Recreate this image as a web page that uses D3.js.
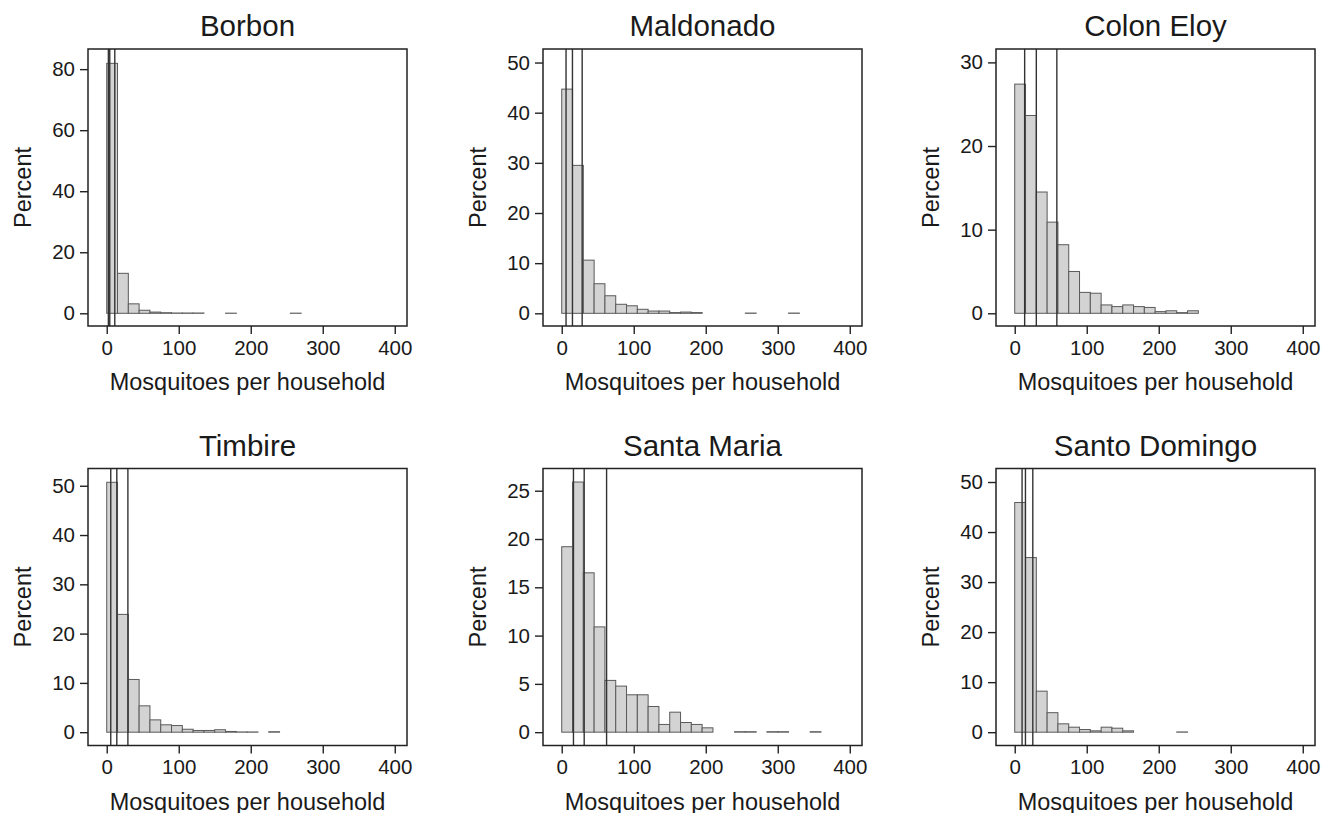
<!DOCTYPE html>
<html>
<head>
<meta charset="utf-8">
<script src="https://cdn.jsdelivr.net/npm/d3@7"></script>
<style>
  html, body { margin: 0; padding: 0; background: #fff; }
  svg { display: block; font-family: "Liberation Sans", Arial, Helvetica, sans-serif; }
</style>
</head>
<body>
<svg id="chart" width="1333" height="813"></svg>
<script>
// ---------- data ----------
const villages = ["Borbon", "Maldonado", "Colon Eloy", "Timbire", "Santa Maria", "Santo Domingo"];
const binWidth = 15; // mosquitoes per bin, bins start at 0

const borbonPct      = [81.9, 13.1, 3.1, 1.0, 0.4, 0.2, 0.1, 0.1, 0.1, 0, 0, 0.05, 0, 0, 0, 0, 0, 0.05];
const maldonadoPct   = [44.7, 29.5, 10.6, 5.9, 3.5, 1.8, 1.5, 0.8, 0.45, 0.45, 0.15, 0.25, 0.15, 0, 0, 0, 0, 0.05, 0, 0, 0, 0.05];
const colonEloyPct   = [27.4, 23.65, 14.5, 10.9, 8.2, 5.0, 2.5, 2.4, 1.0, 0.8, 1.0, 0.8, 0.7, 0.2, 0.3, 0.08, 0.3];
const timbirePct     = [50.7, 23.9, 10.7, 5.35, 2.5, 1.5, 1.35, 0.6, 0.35, 0.35, 0.5, 0.15, 0.05, 0.05, 0, 0.1];
const santaMariaPct  = [19.2, 25.9, 16.5, 10.9, 5.36, 4.77, 3.87, 3.87, 2.66, 0.8, 2.07, 1.0, 0.8, 0.45, 0, 0, 0.05, 0.05, 0, 0.05, 0.05, 0, 0, 0.05];
const santoDomingoPct= [45.9, 34.9, 8.2, 3.9, 1.67, 1.0, 0.53, 0.27, 1.0, 0.8, 0.27, 0, 0, 0, 0, 0.05];

const seriesPct = [borbonPct, maldonadoPct, colonEloyPct, timbirePct, santaMariaPct, santoDomingoPct];

// reference (vertical) lines, mosquitoes per household
const refLines = [[2.3, 4.2, 11.2], [6.0, 14.9, 28.4], [13.8, 30, 58.5], [5.6, 14, 29.4], [16.3, 31.2, 62.3], [10.2, 14.9, 25.1]];

// axis ranges and tick labels
const xDomain = [-26, 417];
const xTicks = [0, 100, 200, 300, 400];
const yDomains = [[-4.16, 86.6], [-2.53, 52.7], [-1.52, 31.6], [-2.7, 53.5], [-1.38, 27.3], [-2.66, 52.7]];
const yTicks = [[0, 20, 40, 60, 80], [0, 10, 20, 30, 40, 50], [0, 10, 20, 30], [0, 10, 20, 30, 40, 50], [0, 5, 10, 15, 20, 25], [0, 10, 20, 30, 40, 50]];

const xTitle = "Mosquitoes per household";
const yTitle = "Percent";

// ---------- layout ----------
const colLeft = [88, 543, 996];
const rowTop = [49, 468.5];
const pw = 319, ph = 277;
const ink = "#1a1a1a";

const svg = d3.select("#chart");

villages.forEach((name, i) => {
  const col = i % 3, row = Math.floor(i / 3);
  const g = svg.append("g").attr("transform", `translate(${colLeft[col]},${rowTop[row]})`);

  const x = d3.scaleLinear().domain(xDomain).range([0, pw]);
  const y = d3.scaleLinear().domain(yDomains[i]).range([ph, 0]);

  // bars
  const bins = seriesPct[i].map((v, k) => ({ x0: k * binWidth, x1: (k + 1) * binWidth, v }))
    .filter(d => d.v > 0);
  g.append("g").selectAll("rect").data(bins).join("rect")
    .attr("x", d => x(d.x0))
    .attr("width", d => x(d.x1) - x(d.x0))
    .attr("y", d => y(d.v))
    .attr("height", d => Math.max(0.01, y(0) - y(d.v)))
    .attr("fill", "#d3d3d3")
    .attr("stroke", "#5a5a5a")
    .attr("stroke-width", 1);

  // reference lines
  g.append("g").selectAll("line").data(refLines[i]).join("line")
    .attr("x1", d => x(d)).attr("x2", d => x(d))
    .attr("y1", 0).attr("y2", ph)
    .attr("stroke", "#333").attr("stroke-width", 1.4);

  // frame
  g.append("rect").attr("x", 0).attr("y", 0).attr("width", pw).attr("height", ph)
    .attr("fill", "none").attr("stroke", "#222").attr("stroke-width", 1.5);

  // axes
  const xAxis = d3.axisBottom(x).tickValues(xTicks).tickSize(8).tickPadding(6).tickSizeOuter(0);
  const xa = g.append("g").attr("transform", `translate(0,${ph})`).call(xAxis);
  xa.select(".domain").remove();
  xa.selectAll("line").attr("stroke", "#222").attr("stroke-width", 1.4);
  xa.selectAll("text").attr("fill", ink).style("font-size", "20.5px")
    .style("font-family", '"Liberation Sans", Arial, sans-serif');

  const yAxis = d3.axisLeft(y).tickValues(yTicks[i]).tickSize(8).tickPadding(5).tickSizeOuter(0);
  const ya = g.append("g").call(yAxis);
  ya.select(".domain").remove();
  ya.selectAll("line").attr("stroke", "#222").attr("stroke-width", 1.4);
  ya.selectAll("text").attr("fill", ink).style("font-size", "20.5px")
    .style("font-family", '"Liberation Sans", Arial, sans-serif');

  // titles
  g.append("text").attr("x", pw / 2).attr("y", -13).attr("text-anchor", "middle")
    .attr("fill", ink).style("font-size", "29.5px").text(name);
  g.append("text").attr("x", pw / 2).attr("y", ph + 64).attr("text-anchor", "middle")
    .attr("fill", ink).style("font-size", "23.5px").text(xTitle);
  g.append("text").attr("transform", `translate(-57,${ph / 2}) rotate(-90)`).attr("text-anchor", "middle")
    .attr("fill", ink).style("font-size", "23.5px").text(yTitle);
});
</script>
</body>
</html>
